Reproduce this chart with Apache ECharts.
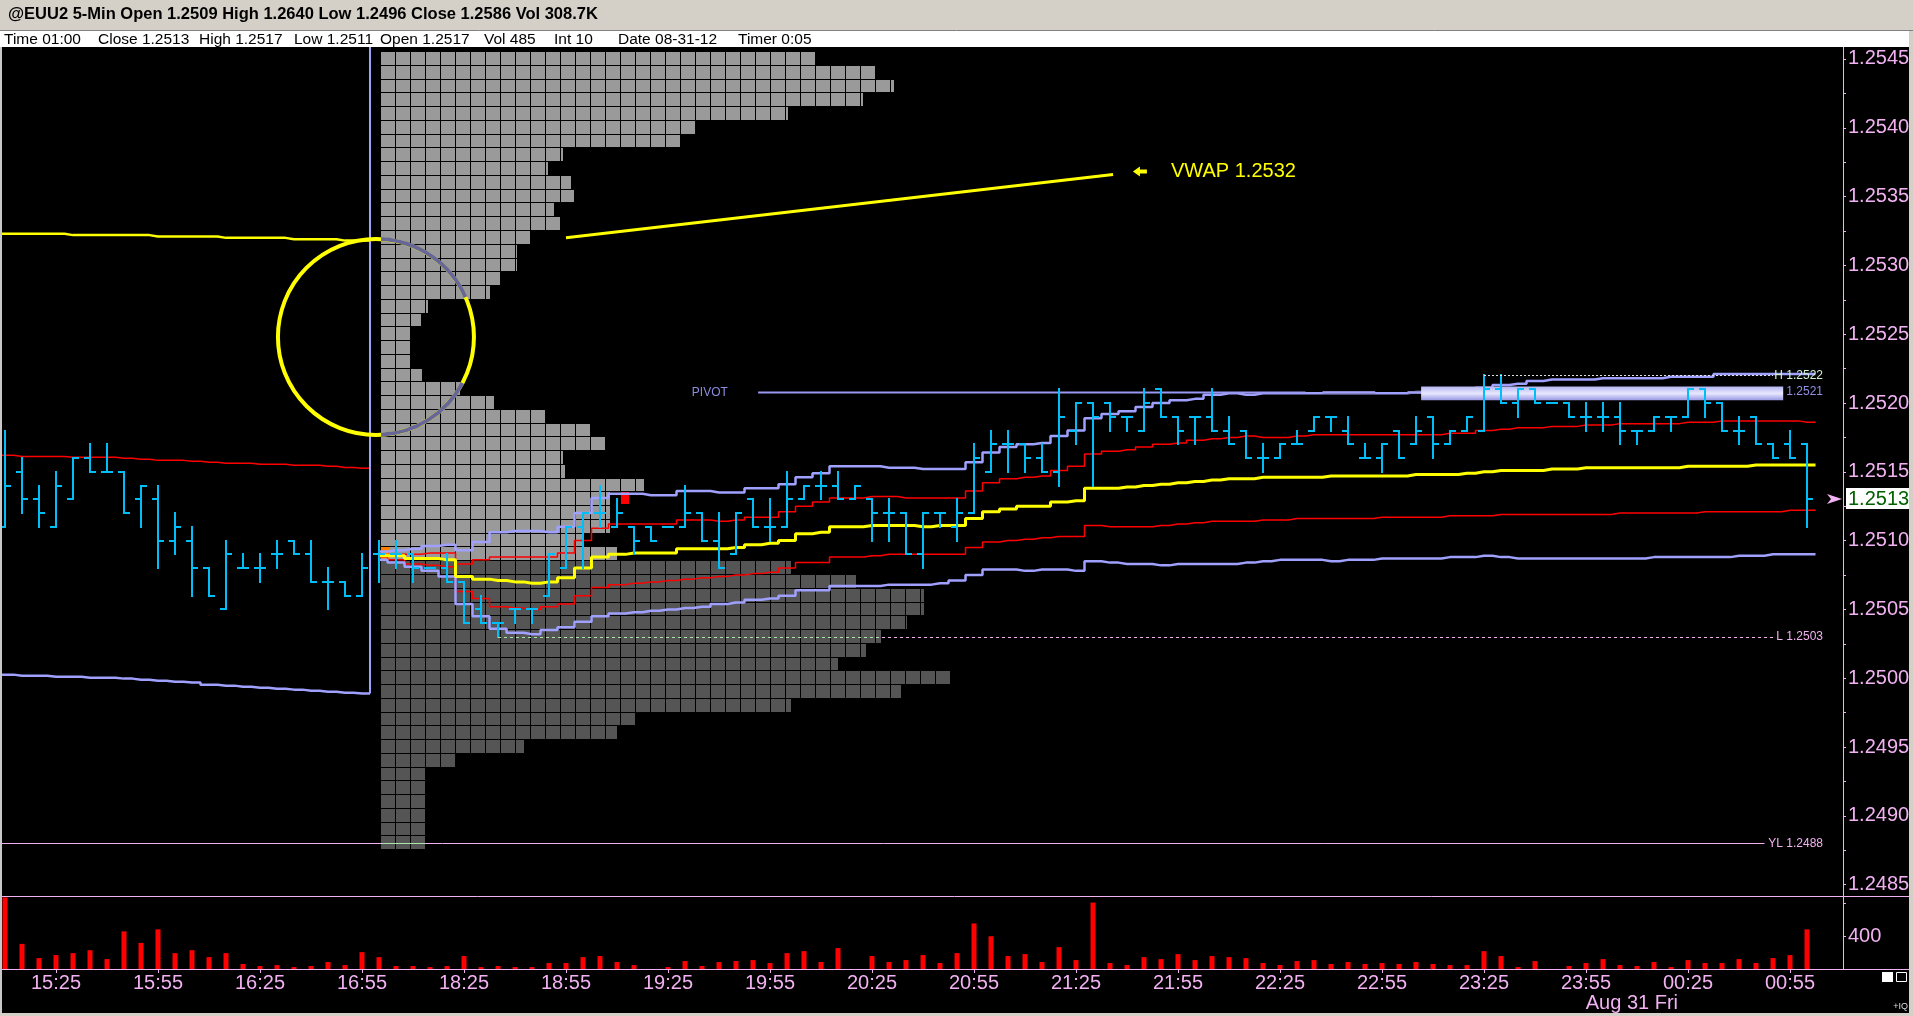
<!DOCTYPE html>
<html><head><meta charset="utf-8">
<script src="https://cdn.jsdelivr.net/npm/echarts@6/dist/echarts.min.js"></script>
<style>html,body{margin:0;padding:0;background:#000;overflow:hidden}#c{width:1913px;height:1016px}</style>
</head><body><div id="c"></div>
<script>
// ---------------- DATA ----------------
const timeLabels = ['15:25','15:55','16:25','16:55','18:25','18:55','19:25','19:55','20:25','20:55','21:25','21:55','22:25','22:55','23:25','23:55','00:25','00:55'];
const tickBars = [3,9,15,21,27,33,39,45,51,57,63,69,75,81,87,93,99,105];
const priceTicks = [1.2485,1.2490,1.2495,1.2500,1.2505,1.2510,1.2515,1.2520,1.2525,1.2530,1.2535,1.2540,1.2545];
const volTicks = [400,800];
const volLabels = [400];

const opens = [1.2511,1.2515,1.2513,1.2511,1.2513,1.2516,1.2515,1.2515,1.2513,1.2513,
1.2510,1.2510,1.2508,1.2505,1.2508,1.2508,1.2509,1.2510,1.2509,1.2507,
1.2507,1.2506,1.2509,1.2509,1.2509,1.2508,1.2508,1.2507,1.2505,1.2504,
1.2505,1.2505,1.2506,1.2508,1.2511,1.2512,1.2511,1.2511,1.2511,1.2511,
1.2511,1.2512,1.2510,1.2509,1.2513,1.2511,1.2511,1.2513,1.2514,1.2514,
1.2513,1.2513,1.2512,1.2512,1.2509,1.2512,1.2511,1.2512,1.2515,1.2517,
1.2517,1.2516,1.2515,1.2518,1.2520,1.2520,1.2519,1.2518,1.2521,1.2519,
1.2519,1.2519,1.2518,1.2518,1.2516,1.2516,1.2517,1.2518,1.2519,1.2518,
1.2516,1.2516,1.2518,1.2517,1.2519,1.2517,1.2518,1.2518,1.2521,1.2520,
1.2521,1.2520,1.2520,1.2519,1.2519,1.2519,1.2518,1.2518,1.2519,1.2519,
1.2521,1.2520,1.2518,1.2519,1.2517,1.2517,1.2517];
const highs = [1.2518,1.2516,1.2514,1.2515,1.2516,1.2517,1.2517,1.2515,1.2514,1.2514,
1.2512,1.2511,1.2508,1.2510,1.2509,1.2509,1.2510,1.2510,1.2510,1.2508,
1.2507,1.2509,1.2510,1.2510,1.2509,1.2508,1.2509,1.2507,1.2506,1.2504,
1.2505,1.2505,1.2509,1.2511,1.2512,1.2514,1.2513,1.2511,1.2511,1.2511,
1.2514,1.2512,1.2512,1.2512,1.2513,1.2513,1.2515,1.2514,1.2515,1.2515,
1.2514,1.2513,1.2513,1.2512,1.2512,1.2512,1.2513,1.2517,1.2518,1.2518,
1.2517,1.2517,1.2521,1.2520,1.2520,1.2520,1.2519,1.2521,1.2521,1.2519,
1.2519,1.2521,1.2519,1.2518,1.2517,1.2517,1.2518,1.2519,1.2519,1.2519,
1.2517,1.2517,1.2518,1.2519,1.2519,1.2518,1.2519,1.2522,1.2522,1.2521,
1.2521,1.2520,1.2520,1.2520,1.2520,1.2520,1.2518,1.2519,1.2519,1.2521,
1.2521,1.2520,1.2519,1.2519,1.2517,1.2518,1.2517];
const lows = [1.2511,1.2512,1.2511,1.2511,1.2513,1.2515,1.2515,1.2512,1.2511,1.2508,
1.2509,1.2506,1.2506,1.2505,1.2508,1.2507,1.2508,1.2509,1.2507,1.2505,
1.2506,1.2506,1.2507,1.2508,1.2507,1.2508,1.2507,1.2504,1.2504,1.2503,
1.2504,1.2504,1.2506,1.2508,1.2508,1.2511,1.2511,1.2509,1.2510,1.2511,
1.2511,1.2510,1.2508,1.2509,1.2511,1.2510,1.2511,1.2513,1.2513,1.2513,
1.2513,1.2510,1.2510,1.2509,1.2508,1.2511,1.2510,1.2512,1.2515,1.2515,
1.2515,1.2515,1.2514,1.2517,1.2514,1.2518,1.2518,1.2518,1.2519,1.2517,
1.2517,1.2518,1.2517,1.2516,1.2515,1.2516,1.2517,1.2518,1.2518,1.2517,
1.2516,1.2515,1.2516,1.2517,1.2516,1.2517,1.2518,1.2518,1.2520,1.2519,
1.2520,1.2520,1.2519,1.2518,1.2518,1.2517,1.2517,1.2518,1.2518,1.2519,
1.2519,1.2518,1.2517,1.2517,1.2516,1.2516,1.2511];
const closes = [1.2514,1.2513,1.2512,1.2514,1.2516,1.2515,1.2515,1.2512,1.2514,1.2510,
1.2511,1.2508,1.2506,1.2509,1.2508,1.2508,1.2509,1.2509,1.2507,1.2507,
1.2506,1.2508,1.2509,1.2509,1.2508,1.2508,1.2507,1.2504,1.2504,1.2504,
1.2505,1.2505,1.2509,1.2511,1.2512,1.2512,1.2512,1.2510,1.2510,1.2511,
1.2512,1.2510,1.2508,1.2512,1.2511,1.2511,1.2513,1.2514,1.2514,1.2513,
1.2514,1.2512,1.2512,1.2509,1.2512,1.2512,1.2512,1.2516,1.2517,1.2517,
1.2516,1.2515,1.2519,1.2520,1.2519,1.2519,1.2519,1.2520,1.2519,1.2518,
1.2519,1.2518,1.2517,1.2516,1.2516,1.2517,1.2517,1.2519,1.2519,1.2517,
1.2516,1.2517,1.2516,1.2518,1.2517,1.2518,1.2519,1.2521,1.2520,1.2521,
1.2520,1.2520,1.2519,1.2519,1.2519,1.2518,1.2518,1.2519,1.2519,1.2521,
1.2520,1.2518,1.2518,1.2517,1.2516,1.2516,1.2513];
const volumes = [875,307,133,170,194,230,121,460,319,485,
194,230,145,194,61,36,48,24,36,85,
48,206,145,36,36,24,36,158,24,36,
24,24,73,73,145,158,85,48,0,24,
97,36,85,97,109,73,194,218,85,255,
0,158,85,109,170,73,194,557,400,158,
182,85,267,109,812,73,48,145,121,182,
109,158,145,133,73,48,97,109,61,85,
61,73,61,85,61,48,48,218,158,24,
97,0,36,73,121,48,36,85,24,109,
73,73,121,73,133,170,485];

// previous session VWAP / bands (bars 0..21)
const prevVwap = [1.25323,1.25323,1.25323,1.25323,1.25322,1.25322,1.25322,1.25322,1.25322,1.25321,1.25321,1.25321,1.25321,1.25320,1.25320,1.25320,1.25320,1.25319,1.25319,1.25319,1.25318,1.25318];
const prevUpper = [1.251620,1.251612,1.251612,1.251612,1.251605,1.251605,1.251605,1.251598,1.251591,1.251583,1.251583,1.251576,1.251569,1.251562,1.251562,1.251554,1.251554,1.251547,1.251547,1.251540,1.251532,1.251525];
const prevLower = [1.250026,1.250018,1.250018,1.250011,1.250011,1.250004,1.250004,1.249997,1.249989,1.249982,1.249975,1.249968,1.249953,1.249946,1.249938,1.249931,1.249924,1.249917,1.249909,1.249902,1.249895,1.249888];

// current session (bars 22..106)
const SESSION_START = 22;
const vwap = [1.25089,1.25089,1.25087,1.25087,1.25086,1.25074,1.25072,1.25071,1.25070,1.25069,
1.25070,1.25073,1.25080,1.25088,1.25090,1.25091,1.25091,1.25091,1.25094,1.25094,
1.25094,1.25095,1.25097,1.25098,1.25100,1.25105,1.25106,1.25110,1.25110,1.25111,
1.25111,1.25111,1.25110,1.25111,1.25111,1.25116,1.25121,1.25123,1.25125,1.25125,
1.25128,1.25129,1.25138,1.25138,1.25139,1.25140,1.25141,1.25142,1.25143,1.25144,
1.25145,1.25145,1.25146,1.25146,1.25146,1.25146,1.25147,1.25147,1.25147,1.25147,
1.25147,1.25148,1.25148,1.25148,1.25149,1.25150,1.25151,1.25151,1.25151,1.25152,
1.25152,1.25153,1.25153,1.25153,1.25153,1.25153,1.25153,1.25154,1.25154,1.25154,
1.25154,1.25155,1.25155,1.25155,1.25155];
const band1Up = [1.25089,1.25090,1.25090,1.25091,1.25091,1.25083,1.25086,1.25088,1.25088,1.25088,
1.25088,1.25091,1.25100,1.25109,1.25112,1.25112,1.25112,1.25112,1.25115,1.25115,
1.25114,1.25115,1.25117,1.25117,1.25121,1.25125,1.25128,1.25131,1.25131,1.25132,
1.25132,1.25131,1.25131,1.25131,1.25131,1.25136,1.25142,1.25145,1.25146,1.25147,
1.25151,1.25154,1.25163,1.25165,1.25166,1.25168,1.25170,1.25171,1.25173,1.25174,
1.25175,1.25176,1.25175,1.25175,1.25176,1.25177,1.25177,1.25177,1.25177,1.25177,
1.25177,1.25177,1.25177,1.25178,1.25178,1.25180,1.25181,1.25182,1.25182,1.25183,
1.25183,1.25184,1.25184,1.25185,1.25185,1.25185,1.25185,1.25186,1.25186,1.25187,
1.25187,1.25187,1.25187,1.25187,1.25186];
const band1Lo = [1.25088,1.25086,1.25083,1.25082,1.25081,1.25063,1.25058,1.25052,1.25051,1.25050,
1.25052,1.25054,1.25060,1.25066,1.25068,1.25069,1.25070,1.25071,1.25072,1.25073,
1.25074,1.25075,1.25076,1.25077,1.25080,1.25084,1.25084,1.25088,1.25088,1.25089,
1.25090,1.25090,1.25090,1.25090,1.25090,1.25095,1.25099,1.25100,1.25101,1.25102,
1.25103,1.25103,1.25111,1.25110,1.25110,1.25110,1.25111,1.25112,1.25113,1.25114,
1.25114,1.25114,1.25115,1.25115,1.25116,1.25116,1.25116,1.25116,1.25116,1.25117,
1.25117,1.25117,1.25117,1.25118,1.25118,1.25118,1.25119,1.25119,1.25119,1.25119,
1.25119,1.25119,1.25119,1.25120,1.25120,1.25120,1.25120,1.25120,1.25121,1.25121,
1.25121,1.25121,1.25121,1.25122,1.25122];
const band2Up = [1.25092,1.25093,1.25094,1.25096,1.25097,1.25093,1.25099,1.25106,1.25107,1.25107,
1.25106,1.25110,1.25120,1.25131,1.25134,1.25134,1.25133,1.25133,1.25136,1.25136,
1.25135,1.25135,1.25138,1.25138,1.25141,1.25146,1.25149,1.25154,1.25154,1.25154,
1.25153,1.25153,1.25152,1.25152,1.25152,1.25157,1.25164,1.25168,1.25170,1.25171,
1.25176,1.25180,1.25189,1.25192,1.25194,1.25197,1.25200,1.25202,1.25203,1.25206,
1.25207,1.25206,1.25207,1.25207,1.25207,1.25207,1.25207,1.25207,1.25207,1.25207,
1.25207,1.25208,1.25208,1.25208,1.25209,1.25211,1.25213,1.25214,1.25216,1.25217,
1.25217,1.25217,1.25218,1.25218,1.25218,1.25218,1.25219,1.25219,1.25219,1.25221,
1.25221,1.25221,1.25221,1.25221,1.25221];
const band2Lo = [1.25086,1.25084,1.25081,1.25078,1.25074,1.25054,1.25045,1.25036,1.25033,1.25032,
1.25035,1.25037,1.25041,1.25045,1.25047,1.25048,1.25049,1.25050,1.25051,1.25052,
1.25054,1.25055,1.25057,1.25058,1.25060,1.25064,1.25064,1.25067,1.25067,1.25067,
1.25068,1.25068,1.25068,1.25069,1.25071,1.25075,1.25079,1.25079,1.25078,1.25079,
1.25079,1.25078,1.25085,1.25084,1.25083,1.25083,1.25082,1.25083,1.25083,1.25083,
1.25083,1.25084,1.25085,1.25086,1.25086,1.25086,1.25085,1.25086,1.25086,1.25087,
1.25087,1.25087,1.25087,1.25088,1.25088,1.25089,1.25088,1.25087,1.25087,1.25087,
1.25087,1.25087,1.25087,1.25087,1.25087,1.25088,1.25088,1.25088,1.25088,1.25088,
1.25089,1.25089,1.25090,1.25090,1.25090];

// volume-at-price profile (one row per pip, length in cells)
const profilePrices = [1.2545,1.2544,1.2543,1.2542,1.2541,1.2540,1.2539,1.2538,1.2537,1.2536,
1.2535,1.2534,1.2533,1.2532,1.2531,1.2530,1.2529,1.2528,1.2527,1.2526,
1.2525,1.2524,1.2523,1.2522,1.2521,1.2520,1.2519,1.2518,1.2517,1.2516,
1.2515,1.2514,1.2513,1.2512,1.2511,1.2510,1.2509,1.2508,1.2507,1.2506,
1.2505,1.2504,1.2503,1.2502,1.2501,1.2500,1.2499,1.2498,1.2497,1.2496,
1.2495,1.2494,1.2493,1.2492,1.2491,1.2490,1.2489,1.2488];
const profileCells = [29,33,34.3,32.2,27.2,21,20,12.2,11.2,12.7,
12.9,11.6,12,10,9.1,9.1,8,7.3,3.2,2.7,
2,2,2,2.8,5.3,7.6,11,14,15,12.2,
12.3,17.6,15.3,15.3,15.3,13.5,15.8,27.4,31.7,36.3,
36.3,35.1,33.4,32.4,30.5,38,34.7,27.4,17,15.8,
9.6,5,3,3,3,3,3,3];
const profileSplit = 1.2509;       // rows at/above this price are the light block
const profileMarks = [             // [price, fromCell, toCell, color]
  [1.2509, 0, 0.6, '#ff8000'],
  [1.2513, 16, 16.55, '#ff0000']
];

// reference levels
const pivotPrice = 1.25208, pivotLabel = '1.2521';
const sessionHigh = 1.2522, sessionLow = 1.2503, yesterdayLow = 1.2488;
const highBar = 87, lowBar = 29;
const prevVwapText = 'VWAP 1.2532';
const title = '@EUU2 5-Min Open 1.2509 High 1.2640 Low 1.2496 Close 1.2586 Vol 308.7K';

// ---------------- LAYOUT / STYLE ----------------
const W = 1913, H = 1016;
const GL = 2, GR = 70, PT = 47, PH = 850, VT = 897, VH = 72;
const BAR_PX = 17, FIRST_X = 5;
const PLOT_W = W - GL - GR;
const XMIN = -(FIRST_X - GL) / BAR_PX, XMAX = XMIN + PLOT_W / BAR_PX;
const YMIN = 1.24841, YMAX = 1.254587, VMAX = 880;
const PIP = 0.0001;
const PROFILE_X0 = (381 - FIRST_X) / BAR_PX, CELL_W = 15 / BAR_PX;
const SESSION_X = 21.47;
const PINK = '#f2b2f2', LAV = '#a0a0ff', RED = '#ff0000', YEL = '#ffff00', CYAN = '#00bff8';
const XOR_GREEN = '#aae6aa';
const FONT = '"Liberation Sans", Arial, sans-serif';

const minorTicks = [];
for (let k = 0; k <= 24; k++) minorTicks.push(+(1.2485 + k * 0.00025).toFixed(5));
const labelAt = {}; tickBars.forEach((b, k) => labelAt[b] = timeLabels[k]);

function stepData(arr, start, lead, tail) {
  const d = arr.map((v, k) => [start + k, v]);
  if (lead != null) d.unshift([lead, arr[0]]);
  if (tail != null) d.push([tail, arr[arr.length - 1]]);
  return d;
}
function lineSeries(data, color, width, z) {
  return {type: 'line', xAxisIndex: 0, yAxisIndex: 0, data, step: 'middle', symbol: 'none',
    lineStyle: {color, width}, z, silent: true, animation: false};
}
const lastIdx = SESSION_START + vwap.length - 1;

const chart = echarts.init(document.getElementById('c'), null, {renderer: 'canvas', width: W, height: H});

function renderProfile(params, api) {
  const price = api.value(0), cells = api.value(1);
  const top = Math.round(api.coord([0, price + PIP / 2])[1]);
  const bot = Math.round(api.coord([0, price - PIP / 2])[1]);
  const fill = price > profileSplit - PIP / 2 ? '#9a9a9a' : '#555555';
  const kids = [];
  const n = Math.ceil(cells - 1e-6);
  for (let j = 0; j < n; j++) {
    const a = Math.round(api.coord([PROFILE_X0 + j * CELL_W, price])[0]);
    const b = Math.round(api.coord([PROFILE_X0 + Math.min(j + 1, cells) * CELL_W, price])[0]);
    kids.push({type: 'rect', shape: {x: a, y: top, width: Math.max(1, b - a - 1), height: bot - top - 1}, style: {fill}});
  }
  return {type: 'group', children: kids};
}
function renderMarks(params, api) {
  const price = api.value(0), c0 = api.value(1), c1 = api.value(2);
  const color = profileMarks[params.dataIndex][3];
  const top = Math.round(api.coord([0, price + PIP / 2])[1]);
  const bot = Math.round(api.coord([0, price - PIP / 2])[1]);
  const a = Math.round(api.coord([PROFILE_X0 + c0 * CELL_W, price])[0]);
  const b = Math.round(api.coord([PROFILE_X0 + c1 * CELL_W, price])[0]);
  return {type: 'rect', shape: {x: a, y: top, width: b - a, height: bot - top - 2}, style: {fill: color}};
}
function renderOHLC(params, api) {
  const i = api.value(0);
  const x = Math.round(api.coord([i, api.value(1)])[0]);
  const yo = Math.round(api.coord([i, api.value(1)])[1]);
  const yh = Math.round(api.coord([i, api.value(2)])[1]);
  const yl = Math.round(api.coord([i, api.value(3)])[1]);
  const yc = Math.round(api.coord([i, api.value(4)])[1]);
  const st = {stroke: CYAN, lineWidth: 2};
  return {type: 'group', children: [
    {type: 'line', shape: {x1: x, y1: yh - 1, x2: x, y2: yl + 1}, style: st},
    {type: 'line', shape: {x1: x - 6, y1: yo, x2: x, y2: yo}, style: st},
    {type: 'line', shape: {x1: x, y1: yc, x2: x + 6, y2: yc}, style: st}
  ]};
}

const option = {
  backgroundColor: '#000',
  animation: false,
  grid: [
    {left: GL, right: GR, top: PT, height: PH},
    {left: GL, right: GR, top: VT, height: VH}
  ],
  xAxis: [
    {type: 'value', gridIndex: 0, min: XMIN, max: XMAX, show: false, axisLine: {onZero: false}},
    {type: 'value', gridIndex: 1, min: XMIN, max: XMAX,
      axisLine: {show: false, onZero: false}, splitLine: {show: false},
      axisTick: {show: true, customValues: tickBars, length: 4, lineStyle: {color: PINK}},
      axisLabel: {customValues: tickBars, formatter: v => labelAt[Math.round(v)] || '', color: PINK, fontSize: 20, fontFamily: FONT, margin: 4}}
  ],
  yAxis: [
    {type: 'value', gridIndex: 0, position: 'right', min: YMIN, max: YMAX,
      axisLine: {show: true, onZero: false, lineStyle: {color: PINK}}, splitLine: {show: false},
      axisTick: {show: true, customValues: minorTicks, length: 3, lineStyle: {color: PINK}},
      axisLabel: {customValues: priceTicks, formatter: v => v.toFixed(4), color: PINK, fontSize: 20, fontFamily: FONT, margin: 5}},
    {type: 'value', gridIndex: 1, position: 'right', min: 0, max: VMAX,
      axisLine: {show: true, onZero: false, lineStyle: {color: PINK}}, splitLine: {show: false},
      axisTick: {show: true, customValues: volTicks, length: 3, lineStyle: {color: PINK}},
      axisLabel: {customValues: volLabels, color: PINK, fontSize: 20, fontFamily: FONT, margin: 5, padding: [8, 0, 0, 0]}}
  ],
  series: [
    {type: 'custom', name: 'profile', xAxisIndex: 0, yAxisIndex: 0, z: 1, silent: true,
      data: profilePrices.map((p, k) => [p, profileCells[k]]), encode: {x: 1, y: 0}, renderItem: renderProfile},
    {type: 'custom', name: 'profileMarks', xAxisIndex: 0, yAxisIndex: 0, z: 1.5, silent: true,
      data: profileMarks.map(m => [m[0], m[1], m[2]]), encode: {x: 1, y: 0}, renderItem: renderMarks},
    lineSeries(stepData(prevUpper, 0, XMIN, SESSION_X), RED, 1.5, 3),
    lineSeries(stepData(prevVwap, 0, XMIN, SESSION_X), YEL, 2.5, 3),
    lineSeries(stepData(prevLower, 0, XMIN, SESSION_X), LAV, 2.5, 3),
    {type: 'line', xAxisIndex: 0, yAxisIndex: 0, symbol: 'none', silent: true, z: 3,
      data: [[SESSION_X, prevLower[prevLower.length - 1]], [SESSION_X, YMAX]], lineStyle: {color: LAV, width: 2}},
    lineSeries(stepData(band1Up, SESSION_START, null, lastIdx + 0.5), RED, 1.5, 3),
    lineSeries(stepData(band1Lo, SESSION_START, null, lastIdx + 0.5), RED, 1.5, 3),
    lineSeries(stepData(band2Up, SESSION_START, null, lastIdx + 0.5), LAV, 2.5, 3),
    lineSeries(stepData(band2Lo, SESSION_START, null, lastIdx + 0.5), LAV, 2.5, 3),
    lineSeries(stepData(vwap, SESSION_START, null, lastIdx + 0.5), YEL, 3, 3),
    {type: 'custom', name: 'ohlc', xAxisIndex: 0, yAxisIndex: 0, z: 5, silent: true,
      data: opens.map((o, i) => [i, o, highs[i], lows[i], closes[i]]), encode: {x: 0, y: [1, 2, 3, 4]}, renderItem: renderOHLC},
    {type: 'bar', name: 'volume', xAxisIndex: 1, yAxisIndex: 1, barWidth: 5, silent: true,
      data: volumes.map((v, i) => [i, v]), itemStyle: {color: RED}}
  ]
};
chart.setOption(option);

// ---------------- OVERLAYS (anchored to data coordinates) ----------------
function P(x, p) { return chart.convertToPixel({gridIndex: 0}, [x, p]); }
function hline(x1, x2, p, stroke, lw, dash, z) {
  const a = P(x1, p), b = P(x2, p);
  const y = Math.round(a[1]) + 0.5;
  return {type: 'line', z: z || 6, shape: {x1: a[0], y1: y, x2: b[0], y2: y}, style: {stroke, lineWidth: lw, lineDash: dash || null}};
}
function txt(x, y, text, fill, size, align, extra) {
  return Object.assign({type: 'text', z: 40, x, y, style: {text, fill, font: size + 'px ' + FONT, textAlign: align || 'left', textVerticalAlign: 'middle'}}, extra || {});
}
const g = [];
// frame
g.push({type: 'rect', z: 30, shape: {x: 0, y: 0, width: W, height: 30}, style: {fill: '#d4d0c8'}});
g.push({type: 'rect', z: 30, shape: {x: 0, y: 30, width: W, height: 17}, style: {fill: '#ffffff'}});
g.push({type: 'line', z: 31, shape: {x1: 0, y1: 30.5, x2: W, y2: 30.5}, style: {stroke: '#808080', lineWidth: 1}});
g.push(txt(8, 14.5, title, '#000', 16, 'left', {style: {text: title, fill: '#000', font: 'bold 16.5px ' + FONT, textVerticalAlign: 'middle'}}));
const li = closes.length - 1;
const info = [['Time 01:00', 4], ['Close ' + closes[li].toFixed(4), 98], ['High ' + highs[li].toFixed(4), 199], ['Low ' + lows[li].toFixed(4), 294],
  ['Open ' + opens[li].toFixed(4), 380], ['Vol ' + volumes[li], 484], ['Int 10', 554], ['Date 08-31-12', 618], ['Timer 0:05', 738]];
info.forEach(s => g.push(txt(s[1], 39.5, s[0], '#000', 15.5)));
g.push({type: 'rect', z: 30, shape: {x: 0, y: 47, width: 2, height: H - 47}, style: {fill: '#c8c8c8'}});
g.push({type: 'rect', z: 30, shape: {x: W - 4, y: 30, width: 4, height: H - 30}, style: {fill: '#d4d0c8'}});
g.push({type: 'rect', z: 30, shape: {x: 0, y: H - 3, width: W, height: 3}, style: {fill: '#d4d0c8'}});
g.push({type: 'line', z: 10, shape: {x1: 0, y1: VT - 0.5, x2: W - 4, y2: VT - 0.5}, style: {stroke: PINK, lineWidth: 1}});
g.push({type: 'line', z: 10, shape: {x1: 0, y1: VT + VH + 0.5, x2: W - 4, y2: VT + VH + 0.5}, style: {stroke: PINK, lineWidth: 1}});
g.push({type: 'rect', z: 20, shape: {x: 1882, y: 972, width: 11, height: 10}, style: {fill: '#fff'}});
g.push({type: 'rect', z: 20, shape: {x: 1896.5, y: 972.5, width: 10, height: 9}, style: {fill: 'none', stroke: '#fff', lineWidth: 1}});
g.push(txt(1908, 1007, '+IQ', '#ddd', 9, 'right'));
// date
const dp = P(95.7, YMIN);
g.push(txt(dp[0], 1003, 'Aug 31 Fri', PINK, 20, 'center'));

// pivot line + band
const LABEL_BAR = 106.94;
const lp = P(LABEL_BAR, pivotPrice)[0];
g.push(hline(44.3, 76.5, pivotPrice, '#9898f0', 2, null, 4));
[[77.5, 80.6], [82.5, 83.3]].forEach(s => {
  g.push(hline(s[0], s[1], pivotPrice + 0.000008, '#8888c8', 1, null, 4));
  g.push(hline(s[0], s[1], pivotPrice - 0.000008, '#8888c8', 1, null, 4));
});
const pvA = P(40.4, pivotPrice);
g.push(txt(pvA[0], pvA[1], 'PIVOT', '#8c8ce0', 12, 'left', {scaleY: 1.1}));
const b0 = P(83.3, 1.25212), b1 = P(104.6, 1.25202);
g.push({type: 'rect', z: 4, shape: {x: b0[0], y: b0[1], width: b1[0] - b0[0], height: b1[1] - b0[1]},
  style: {fill: new echarts.graphic.LinearGradient(0, 0, 0, 1, [{offset: 0, color: '#b4b4f2'}, {offset: 0.5, color: '#e8e8ff'}, {offset: 1, color: '#9a9ae6'}])}});
g.push(txt(lp, P(0, pivotPrice)[1], pivotLabel, '#9090e4', 12, 'right'));

// session high / low / yesterday low
g.push(hline(highBar, 104, sessionHigh, '#e0e0e8', 1, [2, 2], 6));
g.push(txt(lp, P(0, sessionHigh)[1], 'H ' + sessionHigh.toFixed(4), '#d0f0d0', 12, 'right'));
const lowRow = profilePrices.findIndex(p => Math.abs(p - sessionLow) < 1e-6);
const lowEnd = PROFILE_X0 + profileCells[lowRow] * CELL_W;
g.push(hline(lowBar, lowEnd, sessionLow, XOR_GREEN, 1, [3, 3], 6));
g.push(hline(lowEnd, 104, sessionLow, PINK, 1, [3, 3], 6));
g.push(txt(lp, P(0, sessionLow)[1], 'L ' + sessionLow.toFixed(4), PINK, 12, 'right'));
const ylRow = profilePrices.findIndex(p => Math.abs(p - yesterdayLow) < 1e-6);
const ylEnd = PROFILE_X0 + profileCells[ylRow] * CELL_W;
g.push(hline(XMIN, 103.5, yesterdayLow, PINK, 1, null, 6));
g.push(hline(PROFILE_X0, ylEnd, yesterdayLow, XOR_GREEN, 1, null, 7));
g.push(txt(lp, P(0, yesterdayLow)[1], 'YL ' + yesterdayLow.toFixed(4), PINK, 12, 'right'));

// annotation circle around previous VWAP
const cc = P(21.82, 1.25248), R = 98;
g.push({type: 'circle', z: 8, shape: {cx: cc[0], cy: cc[1], r: R}, style: {fill: 'none', stroke: YEL, lineWidth: 4}});
const deg = Math.PI / 180;
[[-87, -24], [28, 87]].forEach(a => g.push({type: 'arc', z: 9,
  shape: {cx: cc[0], cy: cc[1], r: R, startAngle: a[0] * deg, endAngle: a[1] * deg, clockwise: true},
  style: {stroke: '#666699', lineWidth: 4, fill: 'none'}}));
// pointer line + arrow + text
const a0 = P(33.0, 1.25320), a1 = P(65.18, 1.25366);
g.push({type: 'line', z: 8, shape: {x1: a0[0], y1: a0[1], x2: a1[0], y2: a1[1]}, style: {stroke: YEL, lineWidth: 3}});
const ah = P(66.76, 1.253682);
g.push({type: 'polygon', z: 8, shape: {points: [[ah[0] - 7, ah[1]], [ah[0], ah[1] - 5], [ah[0], ah[1] - 2], [ah[0] + 7, ah[1] - 2], [ah[0] + 7, ah[1] + 2], [ah[0], ah[1] + 2], [ah[0], ah[1] + 5]]}, style: {fill: YEL}});
const at = P(68.59, 1.253682);
g.push(txt(at[0], at[1], prevVwapText, YEL, 20));

// last price marker
const lc = P(li, closes[li]);
const ly = Math.round(lc[1]);
g.push({type: 'rect', z: 20, shape: {x: 1846, y: ly - 11, width: 64, height: 21}, style: {fill: '#fff'}});
g.push(txt(1848, ly, closes[li].toFixed(4), '#006000', 20));
g.push({type: 'polygon', z: 20, shape: {points: [[1827, ly - 5], [1842, ly], [1827, ly + 5], [1831, ly]]}, style: {fill: PINK}});

chart.setOption({graphic: {elements: g}});
</script></body></html>
